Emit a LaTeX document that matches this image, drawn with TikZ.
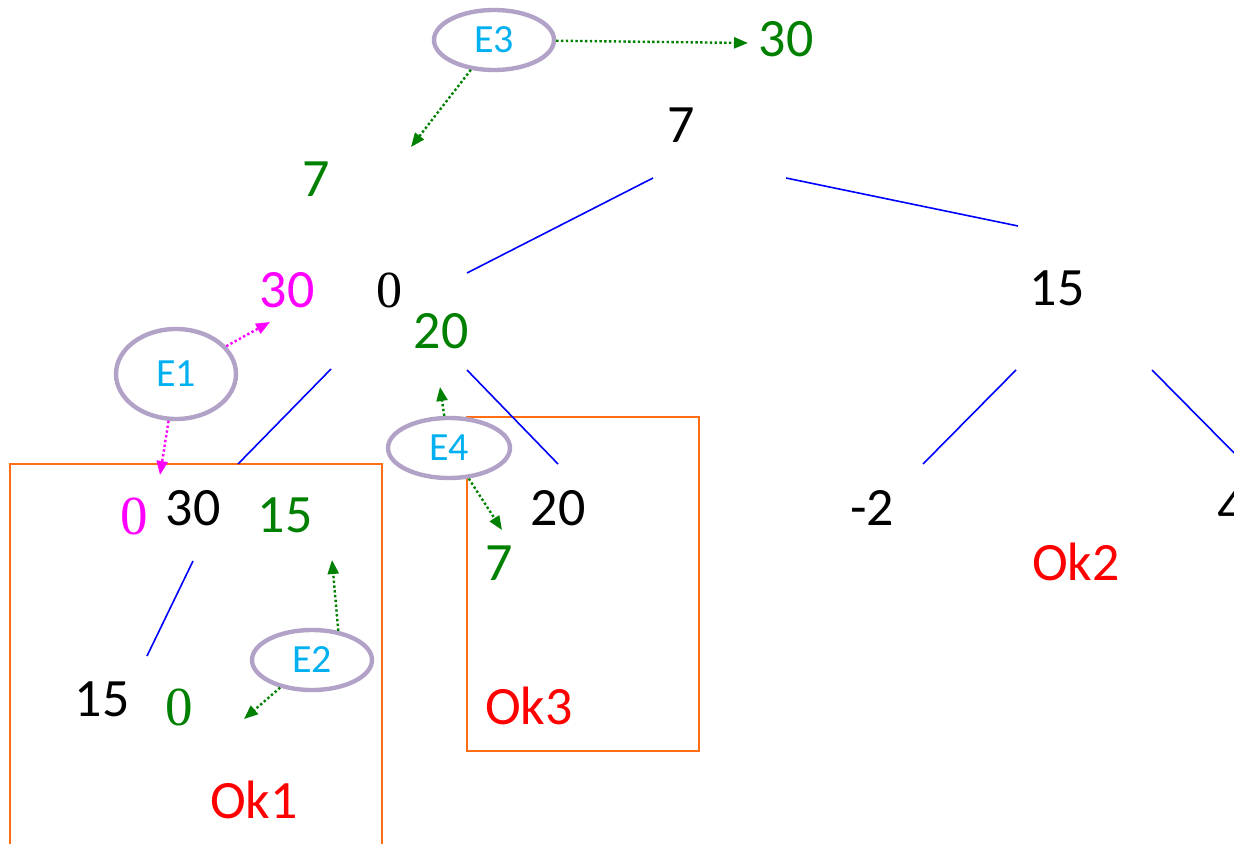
\documentclass[tikz,border=0pt]{standalone}
\usepackage{fontspec}
\setmainfont{Carlito}
\newfontfamily\zerofont{Liberation Serif}
\usetikzlibrary{shapes.geometric,arrows.meta}

\definecolor{passgreen}{RGB}{0,128,0}
\definecolor{cutpink}{RGB}{255,0,255}
\definecolor{tagblue}{RGB}{0,176,240}
\definecolor{tagring}{RGB}{179,162,199}
\definecolor{boxorange}{RGB}{255,110,20}

\begin{document}
\begin{tikzpicture}
  [x=0.5pt, y=-0.5pt,
   every node/.style={inner sep=0pt, anchor=base, font=\fontsize{27}{27}\selectfont},
   zerodigit/.style={font=\zerofont\fontsize{#1}{#1}\selectfont},
   zerodigit/.default=27.5,
   treeline/.style={blue, line width=0.8pt},
   tag/.style={ellipse, draw=tagring, fill=white, line width=2.2pt, text=tagblue,
               anchor=center, minimum width=60pt, minimum height=30pt,
               font=\fontsize{20}{20}\selectfont},
   pass/.style={passgreen, line width=1.2pt, dash pattern=on 1.2pt off 1.2pt,
                -{Triangle[length=7pt,width=5.5pt]}},
   okbox/.style={boxorange, line width=1pt},
   oktext/.style={red}]
  \useasboundingbox (0,0) rectangle (1234,844);
  \clip (0,0) rectangle (1234,844);

  \draw[okbox] (10,464) rectangle (382,900);
  \draw[okbox] (467,417) rectangle (699,751);

  \node (root) at (681,143) {7};
  \node[zerodigit=26] (n0) at (389,307) {0};
  \node (n15) at (1057,306) {15};
  \node (n30) at (193,525) {30};
  \node (n20) at (558,525) {20};
  \node (nm2) at (872,525) {-2};
  \node (n4) at (1231,525) {4};
  \node (n15b) at (102,716) {15};

  \node[passgreen] (top30) at (786,57) {30};
  \node[passgreen] (g7) at (316,197) {7};
  \node[passgreen] (g20) at (441,348) {20};
  \node[passgreen] (g15) at (285,532) {15};
  \node[passgreen] (g7b) at (499,580) {7};
  \node[passgreen, zerodigit] (g0) at (179,725) {0};
  \node[cutpink] (m30) at (287,307) {30};
  \node[cutpink, zerodigit] (m0) at (134,534) {0};

  \node[oktext] (ok1) at (254,818) {Ok1};
  \node[oktext] (ok2) at (1076,580) {Ok2};
  \node[oktext] (ok3) at (529,724) {Ok3};

  \coordinate (root-l) at (653,178);  \coordinate (n0-up) at (467,273);
  \coordinate (root-r) at (786,178);  \coordinate (n15-up) at (1018,226);
  \coordinate (n0-l) at (331,369);    \coordinate (n30-up) at (238,464);
  \coordinate (n0-r) at (467,370);    \coordinate (n20-up) at (558,464);
  \coordinate (n30-l) at (193,561);   \coordinate (n15b-up) at (147,656);
  \coordinate (n15-l) at (1016,370);  \coordinate (nm2-up) at (923,464);
  \coordinate (n15-r) at (1152,370);  \coordinate (n4-up) at (1245,464);
  \draw[treeline] (root-l) -- (n0-up);
  \draw[treeline] (root-r) -- (n15-up);
  \draw[treeline] (n0-l) -- (n30-up);
  \draw[treeline] (n0-r) -- (n20-up);
  \draw[treeline] (n30-l) -- (n15b-up);
  \draw[treeline] (n15-l) -- (nm2-up);
  \draw[treeline] (n15-r) -- (n4-up);

  \node[tag] (e3) at (494,40) {E3};
  \node[tag, minimum height=45pt] (e1) at (176,374) {E1};
  \node[tag, minimum width=61pt] (e4) at (449,448) {E4};
  \node[tag] (e2) at (312,660) {E2};

  \coordinate (to-top30) at (748,43);
  \coordinate (to-g7) at (411,147);
  \coordinate (to-m30) at (270,322);
  \coordinate (to-m0) at (160,475);
  \coordinate (to-g15) at (332,560);
  \coordinate (to-g0) at (244,719);
  \coordinate (to-g20) at (440,387);
  \coordinate (to-g7b) at (502,530);
  \draw[pass] (e3) -- (to-top30);
  \draw[pass] (e3) -- (to-g7);
  \draw[pass, cutpink] (e1) -- (to-m30);
  \draw[pass, cutpink] (e1) -- (to-m0);
  \draw[pass] (e2.48) -- (to-g15);
  \draw[pass] (e2) -- (to-g0);
  \draw[pass] (e4) -- (to-g20);
  \draw[pass] (e4) -- (to-g7b);
\end{tikzpicture}
\end{document}
